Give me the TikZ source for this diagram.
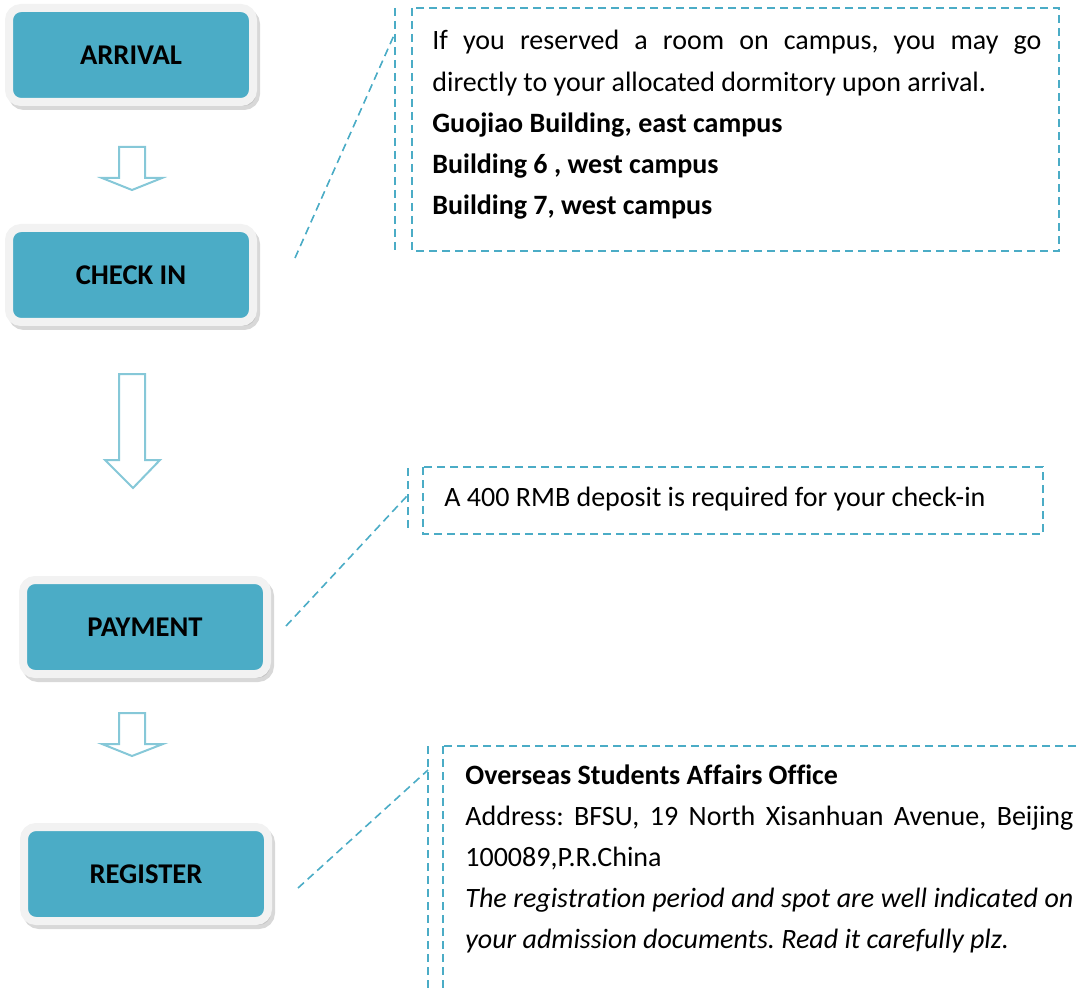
\documentclass[tikz,border=0pt]{standalone}
\usepackage{fontspec}
\setmainfont{Carlito}[Ligatures={NoCommon}]
\usetikzlibrary{shadows}
\definecolor{stepblue}{HTML}{4BACC6}
\definecolor{arrowblue}{HTML}{86C8D8}
\definecolor{framegray}{HTML}{F2F2F2}
\frenchspacing
\tikzset{
  stage/.style={rectangle, rounded corners=6pt, fill=stepblue, draw=framegray, line width=4pt,
    minimum width=122pt, minimum height=47pt, font=\fontsize{14.3}{16}\selectfont\bfseries,
    drop shadow={shadow xshift=1.5pt, shadow yshift=-2pt, fill=black!30, draw=black!30, line width=4pt}},
  blockarrow/.style={draw=arrowblue, line width=1pt, fill=white, line join=miter},
  callout/.style={draw=stepblue, line width=0.8pt, dash pattern=on 4pt off 2.5pt},
  note/.style={anchor=base west, inner sep=0pt, align=justify, font=\fontsize{14}{20.6}\selectfont},
}

\begin{document}
\begin{tikzpicture}[x=0.5pt, y=-0.5pt]
  \useasboundingbox (0,0) rectangle (1080,989);
  \clip (0,0) rectangle (1080,989);

  % the four steps
  \node (arrival) at (131,55) [stage] {ARRIVAL};
  \node (checkin) at (131,275) [stage] {CHECK IN};
  \node (payment) at (145,627) [stage] {PAYMENT};
  \node (register) at (146,874) [stage] {REGISTER};

  % hollow arrows between the steps
  \draw[blockarrow] (119,147) -- (145,147) -- (145,178) -- (162,178) -- (132,190) -- (102,178) -- (119,178) -- cycle;
  \draw[blockarrow] (119,374) -- (145,374) -- (145,460) -- (160,460) -- (133,488) -- (105,460) -- (119,460) -- cycle;
  \draw[blockarrow] (119,713) -- (145,713) -- (145,744) -- (163,744) -- (132,756) -- (102,744) -- (119,744) -- cycle;

  % callout for check in
  \draw[callout] (412,8) rectangle (1059,251);
  \draw[callout] (395,8) -- (395,251);
  \coordinate (lead1) at (295,258);
  \coordinate (tip1) at (395,33);
  \draw[callout] (lead1) -- (tip1);
  \node (stayinfo) [note, text width=304.5pt] at (432,50) {If you reserved a room on campus, you may go\linebreak directly to your allocated dormitory upon arrival.\par
    \textbf{Guojiao Building, east campus}\par
    \textbf{Building 6 , west campus}\par
    \textbf{Building 7, west campus}};

  % callout for payment
  \draw[callout] (423,467) rectangle (1043,534);
  \draw[callout] (408,468) -- (408,528);
  \coordinate (lead2) at (286,626);
  \coordinate (tip2) at (407,496);
  \draw[callout] (lead2) -- (tip2);
  \node (deposit) [note] at (444,506) {A 400 RMB deposit is required for your check-in};

  % callout for register
  \draw[callout] (443,746) rectangle (1100,1010);
  \draw[callout] (428,746) -- (428,1000);
  \coordinate (lead3) at (298,888);
  \coordinate (tip3) at (428,770);
  \draw[callout] (lead3) -- (tip3);
  \node (office) [note, text width=304pt] at (465,784) {\textbf{Overseas Students Affairs Office}\par
    Address: BFSU, 19 North Xisanhuan Avenue, Beijing\linebreak 100089,P.R.China\par
    \textit{The registration period and spot are well indicated on\linebreak your admission documents. Read it carefully plz.}};
\end{tikzpicture}
\end{document}
